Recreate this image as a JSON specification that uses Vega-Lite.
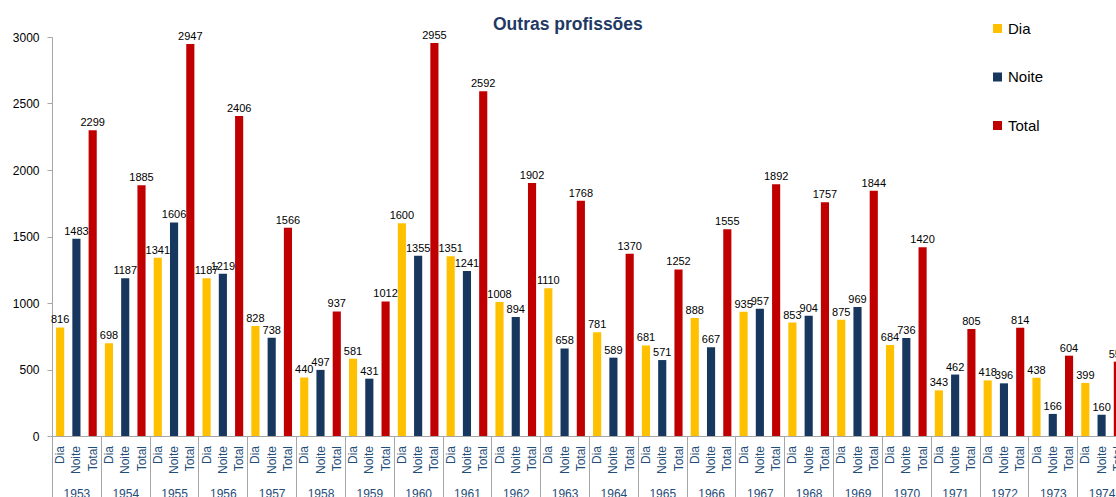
{
  "$schema": "https://vega.github.io/schema/vega-lite/v6.json",
  "autosize": {"type": "none"},
  "padding": {"left": 52, "top": 37, "right": 0, "bottom": 61},
  "width": 1064,
  "height": 399,
  "background": "white",
  "title": {"text": "Outras profissões", "font": "Liberation Sans", "fontSize": 17.5, "fontWeight": "bold", "color": "#1F3864", "anchor": "start", "frame": "group", "dx": 441, "dy": 16},
  "config": {"view": {"stroke": null}, "font": "Liberation Sans"},
  "data": {"values": [
    {"year": "1953", "serie": "Dia", "value": 816}, {"year": "1953", "serie": "Noite", "value": 1483}, {"year": "1953", "serie": "Total", "value": 2299},
    {"year": "1954", "serie": "Dia", "value": 698}, {"year": "1954", "serie": "Noite", "value": 1187}, {"year": "1954", "serie": "Total", "value": 1885},
    {"year": "1955", "serie": "Dia", "value": 1341}, {"year": "1955", "serie": "Noite", "value": 1606}, {"year": "1955", "serie": "Total", "value": 2947},
    {"year": "1956", "serie": "Dia", "value": 1187}, {"year": "1956", "serie": "Noite", "value": 1219}, {"year": "1956", "serie": "Total", "value": 2406},
    {"year": "1957", "serie": "Dia", "value": 828}, {"year": "1957", "serie": "Noite", "value": 738}, {"year": "1957", "serie": "Total", "value": 1566},
    {"year": "1958", "serie": "Dia", "value": 440}, {"year": "1958", "serie": "Noite", "value": 497}, {"year": "1958", "serie": "Total", "value": 937},
    {"year": "1959", "serie": "Dia", "value": 581}, {"year": "1959", "serie": "Noite", "value": 431}, {"year": "1959", "serie": "Total", "value": 1012},
    {"year": "1960", "serie": "Dia", "value": 1600}, {"year": "1960", "serie": "Noite", "value": 1355}, {"year": "1960", "serie": "Total", "value": 2955},
    {"year": "1961", "serie": "Dia", "value": 1351}, {"year": "1961", "serie": "Noite", "value": 1241}, {"year": "1961", "serie": "Total", "value": 2592},
    {"year": "1962", "serie": "Dia", "value": 1008}, {"year": "1962", "serie": "Noite", "value": 894}, {"year": "1962", "serie": "Total", "value": 1902},
    {"year": "1963", "serie": "Dia", "value": 1110}, {"year": "1963", "serie": "Noite", "value": 658}, {"year": "1963", "serie": "Total", "value": 1768},
    {"year": "1964", "serie": "Dia", "value": 781}, {"year": "1964", "serie": "Noite", "value": 589}, {"year": "1964", "serie": "Total", "value": 1370},
    {"year": "1965", "serie": "Dia", "value": 681}, {"year": "1965", "serie": "Noite", "value": 571}, {"year": "1965", "serie": "Total", "value": 1252},
    {"year": "1966", "serie": "Dia", "value": 888}, {"year": "1966", "serie": "Noite", "value": 667}, {"year": "1966", "serie": "Total", "value": 1555},
    {"year": "1967", "serie": "Dia", "value": 935}, {"year": "1967", "serie": "Noite", "value": 957}, {"year": "1967", "serie": "Total", "value": 1892},
    {"year": "1968", "serie": "Dia", "value": 853}, {"year": "1968", "serie": "Noite", "value": 904}, {"year": "1968", "serie": "Total", "value": 1757},
    {"year": "1969", "serie": "Dia", "value": 875}, {"year": "1969", "serie": "Noite", "value": 969}, {"year": "1969", "serie": "Total", "value": 1844},
    {"year": "1970", "serie": "Dia", "value": 684}, {"year": "1970", "serie": "Noite", "value": 736}, {"year": "1970", "serie": "Total", "value": 1420},
    {"year": "1971", "serie": "Dia", "value": 343}, {"year": "1971", "serie": "Noite", "value": 462}, {"year": "1971", "serie": "Total", "value": 805},
    {"year": "1972", "serie": "Dia", "value": 418}, {"year": "1972", "serie": "Noite", "value": 396}, {"year": "1972", "serie": "Total", "value": 814},
    {"year": "1973", "serie": "Dia", "value": 438}, {"year": "1973", "serie": "Noite", "value": 166}, {"year": "1973", "serie": "Total", "value": 604},
    {"year": "1974", "serie": "Dia", "value": 399}, {"year": "1974", "serie": "Noite", "value": 160}, {"year": "1974", "serie": "Total", "value": 559}
  ]},
  "encoding": {
    "x": {"field": "year", "type": "nominal", "title": null,
      "scale": {"range": [0, 1074], "paddingInner": 0, "paddingOuter": 0},
      "axis": {"labelAngle": 0, "labelColor": "#1F4E79", "labelFontSize": 12, "labelBaseline": "top", "labelPadding": -13, "tickBand": "extent", "tickSize": 65, "tickColor": "#A6A6A6", "domainColor": "#A6A6A6"}},
    "xOffset": {"field": "serie", "type": "nominal", "sort": ["Dia", "Noite", "Total"], "scale": {"paddingInner": 0.5, "paddingOuter": 0.25}}
  },
  "layer": [
    {"mark": {"type": "bar"},
     "encoding": {
       "y": {"field": "value", "type": "quantitative", "title": null,
         "scale": {"domain": [0, 3000]},
         "axis": {"values": [0, 500, 1000, 1500, 2000, 2500, 3000], "format": "d", "grid": false, "labelColor": "black", "labelFontSize": 12, "tickSize": 5, "tickColor": "#A6A6A6", "domainColor": "#A6A6A6", "labelPadding": 8}},
       "color": {"field": "serie", "type": "nominal",
         "scale": {"domain": ["Dia", "Noite", "Total"], "range": ["#FFC000", "#17375E", "#C00000"]},
         "legend": {"title": null, "orient": "none", "legendX": 938, "legendY": -16, "symbolType": "square", "symbolSize": 81, "symbolStrokeWidth": 0, "labelFontSize": 15, "labelColor": "black", "rowPadding": 32.5, "labelOffset": 3}}
     }},
    {"mark": {"type": "text", "dy": -7, "fontSize": 11, "color": "black"},
     "encoding": {
       "y": {"field": "value", "type": "quantitative"},
       "text": {"field": "value", "type": "quantitative", "format": "d"}
     }},
    {"mark": {"type": "text", "angle": 270, "align": "right", "baseline": "middle", "dx": -10, "fontSize": 12, "color": "#1F4E79"},
     "encoding": {
       "y": {"datum": 0},
       "text": {"field": "serie"}
     }}
  ]
}
